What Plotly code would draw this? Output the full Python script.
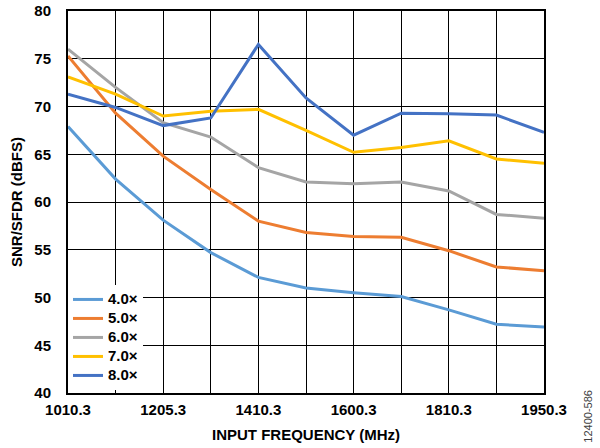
import plotly.graph_objects as go

frequencies = ["1010.3", "1105.3", "1205.3", "1305.3", "1410.3", "1505.3",
               "1600.3", "1705.3", "1810.3", "1880.3", "1950.3"]
tick_labels = ["1010.3", "", "1205.3", "", "1410.3", "", "1600.3", "", "1810.3", "", "1950.3"]
y_ticks = [40, 45, 50, 55, 60, 65, 70, 75, 80]

snr_4x = [67.9, 62.4, 58.1, 54.7, 52.1, 51.0, 50.5, 50.1, 48.7, 47.2, 46.9]
snr_5x = [75.3, 69.3, 64.8, 61.3, 58.0, 56.8, 56.4, 56.3, 54.9, 53.2, 52.8]
snr_6x = [76.0, 72.0, 68.3, 66.8, 63.6, 62.1, 61.9, 62.1, 61.15, 58.7, 58.3]
snr_7x = [73.1, 71.3, 69.0, 69.5, 69.7, 67.5, 65.2, 65.7, 66.4, 64.5, 64.05]
snr_8x = [71.3, 69.9, 68.0, 68.8, 76.5, 70.9, 67.0, 69.3, 69.25, 69.1, 67.3]

series_names = ["4.0×", "5.0×", "6.0×", "7.0×", "8.0×"]
series_values = [snr_4x, snr_5x, snr_6x, snr_7x, snr_8x]
series_colors = ["#5B9BD5", "#ED7D31", "#A5A5A5", "#FFC000", "#4472C4"]

fig = go.Figure()
for name, vals, color in zip(series_names, series_values, series_colors):
    fig.add_trace(go.Scatter(
        x=frequencies, y=vals, mode="lines",
        name='<span style="font-size:15px">' + name + "</span>",
        line=dict(color=color, width=3)))

font_family = "Liberation Sans, Arial, sans-serif"
fig.update_layout(
    width=600, height=448,
    margin=dict(l=68, r=56, t=11, b=55),
    paper_bgcolor="white", plot_bgcolor="white",
    font=dict(family=font_family, color="black", size=15),
    showlegend=True,
    legend=dict(x=0.0, y=0.008, xanchor="left", yanchor="bottom",
                bgcolor="white", borderwidth=0,
                font=dict(family=font_family, size=12, color="black", weight="bold"),
                tracegroupgap=0),
    xaxis=dict(
        type="category", categoryorder="array", categoryarray=frequencies,
        range=[0, 10], tickmode="array", tickvals=frequencies, ticktext=tick_labels,
        showgrid=True, gridcolor="black", gridwidth=1,
        showline=True, linecolor="black", linewidth=2, mirror=True,
        ticks="", tickfont=dict(size=15, weight="bold"), ticklabelstandoff=2,
        automargin=False,
        title=dict(text="INPUT FREQUENCY (MHz)", font=dict(size=15, weight="bold"), standoff=12),
    ),
    yaxis=dict(
        range=[40, 80], tickmode="array", tickvals=y_ticks,
        showgrid=True, gridcolor="black", gridwidth=1,
        showline=True, linecolor="black", linewidth=2, mirror=True,
        ticks="", tickfont=dict(size=15, weight="bold"), ticklabelstandoff=12,
        automargin=False, ticklabeloverflow="allow",
        title=dict(text="SNR/SFDR (dBFS)", font=dict(size=15, weight="bold"), standoff=8),
        zeroline=False,
    ),
    annotations=[dict(text="12400-586", x=1.092, y=-0.06, xref="paper", yref="paper",
                      xanchor="center", yanchor="middle",
                      showarrow=False, textangle=-90,
                      font=dict(size=11, color="#404040", family=font_family))],
)

fig.write_html("out.html",
               config={"displayModeBar": False},
               post_script="document.body.style.margin='0';document.body.style.padding='0';")
